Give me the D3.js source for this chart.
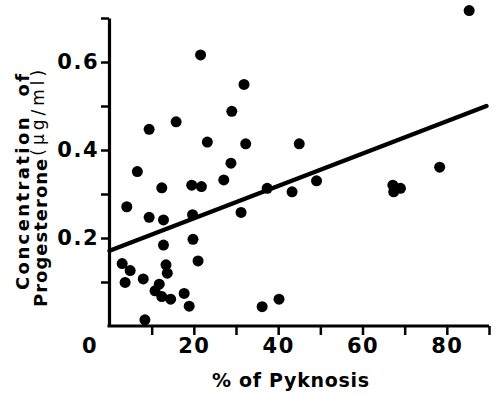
<!DOCTYPE html>
<html>
<head>
<meta charset="utf-8">
<script src="https://cdn.jsdelivr.net/npm/d3@7"></script>
<style>
  body { margin: 0; background: #fff; }
  text { font-family: "DejaVu Sans", sans-serif; fill: #000; }
</style>
</head>
<body>
<script>
// % of pyknosis (x) and progesterone concentration in ug/ml (y)
let pyknosis = [21.6, 31.9, 29.0, 15.8, 9.4, 23.2, 32.3, 28.8, 6.6, 27.1, 12.4, 19.5, 21.8,
  4.1, 9.4, 12.8, 19.7, 31.2, 12.8, 19.8, 21.0, 3.0, 4.9, 3.7, 8.0, 13.4, 13.7, 11.8,
  10.8, 12.4, 14.5, 17.7, 18.9, 8.4, 85.3, 45.0, 37.4, 43.3, 49.1, 67.2, 69.0, 67.4,
  78.3, 36.2, 40.2]
let progesterone = [0.616, 0.549, 0.488, 0.464, 0.447, 0.418, 0.414, 0.370, 0.351, 0.332, 0.314, 0.320, 0.317,
  0.271, 0.247, 0.241, 0.253, 0.258, 0.184, 0.197, 0.148, 0.142, 0.126, 0.099, 0.107, 0.139, 0.120, 0.095,
  0.080, 0.067, 0.061, 0.074, 0.045, 0.014, 0.717, 0.414, 0.313, 0.305, 0.330, 0.320, 0.313, 0.305,
  0.361, 0.044, 0.061]

// regression line end points
let fitX = [0, 89.4]
let fitY = [0.171, 0.500]

let xTicks = [10, 20, 30, 40, 50, 60, 70, 80, 90]
let xTickLabels = [0, 20, 40, 60, 80]
let yTicks = [0.1, 0.2, 0.3, 0.4, 0.5, 0.6, 0.7]
let yTickLabels = [0.2, 0.4, 0.6]

let width = 495,
  height = 395

let svg = d3.select('body').append('svg')
  .attr('width', width)
  .attr('height', height)

let scaleX = d3.scaleLinear().domain([0, 90]).range([109.5, 489])
let scaleY = d3.scaleLinear().domain([0, 0.7]).range([326, 18])

// y axis
let axisY = d3.axisLeft(scaleY)
  .tickValues(yTicks)
  .tickSize(8)
  .tickSizeOuter(0)
  .tickPadding(2)
  .tickFormat(d => yTickLabels.some(v => Math.abs(v - d) < 1e-9) ? d3.format('.1f')(d) : '')

let gy = svg.append('g')
  .attr('transform', 'translate(109, 0)')
  .call(axisY)

// x axis
let axisX = d3.axisBottom(scaleX)
  .tickValues([0].concat(xTicks))
  .tickSize(9)
  .tickSizeOuter(0)
  .tickPadding(3)
  .tickFormat(d => xTickLabels.includes(d) ? d : '')

let gx = svg.append('g')
  .attr('transform', 'translate(0, 326)')
  .call(axisX)

gx.selectAll('.tick').filter(d => d === 0).select('line').remove()
gx.selectAll('.tick').filter(d => d === 0).select('text').attr('dx', -20)

for (let g of [gx, gy]) {
  g.select('.domain').attr('stroke-width', 3.2).attr('stroke', '#000')
  g.selectAll('.tick line').attr('stroke-width', 2.5).attr('stroke', '#000')
  g.selectAll('.tick text')
    .attr('font-family', '"DejaVu Sans", sans-serif')
    .attr('font-size', 21)
    .attr('font-weight', 'bold')
    .attr('letter-spacing', 1.5)
    .attr('fill', '#000')
}
gx.select('.domain').attr('d', 'M' + scaleX(0) + ',0H' + scaleX(90))
gx.select('.domain').attr('d', 'M107.5,0H' + scaleX(90))

// regression line
svg.append('line')
  .attr('x1', scaleX(fitX[0]))
  .attr('y1', scaleY(fitY[0]))
  .attr('x2', scaleX(fitX[1]))
  .attr('y2', scaleY(fitY[1]))
  .attr('stroke', '#000')
  .attr('stroke-width', 4.5)
  .attr('stroke-linecap', 'round')

// points
svg.selectAll('circle.pt')
  .data(pyknosis)
  .enter()
  .append('circle')
  .attr('class', 'pt')
  .attr('cx', d => scaleX(d))
  .attr('cy', (d, i) => scaleY(progesterone[i]))
  .attr('r', 5.5)
  .attr('fill', '#000')

// x title
svg.append('text')
  .attr('x', 212)
  .attr('y', 387)
  .attr('font-size', 19)
  .attr('font-weight', 'bold')
  .attr('letter-spacing', 0.7)
  .text('% of Pyknosis')

// y title, two lines
svg.append('text')
  .attr('transform', 'translate(29.3, 290) rotate(-90)')
  .attr('font-size', 18)
  .attr('font-weight', 'bold')
  .attr('letter-spacing', 2.4)
  .attr('word-spacing', 10)
  .text('Concentration of')

let t2 = svg.append('text')
  .attr('transform', 'translate(46.5, 307) rotate(-90)')
  .attr('font-size', 18)
  .attr('font-weight', 'bold')
  .attr('letter-spacing', 1)

t2.append('tspan').text('Progesterone')
t2.append('tspan')
  .attr('dx', 2)
  .attr('dy', -3)
  .attr('font-weight', 'normal')
  .attr('font-size', 17)
  .attr('letter-spacing', 4)
  .text('(μg/ml)')
</script>
</body>
</html>
